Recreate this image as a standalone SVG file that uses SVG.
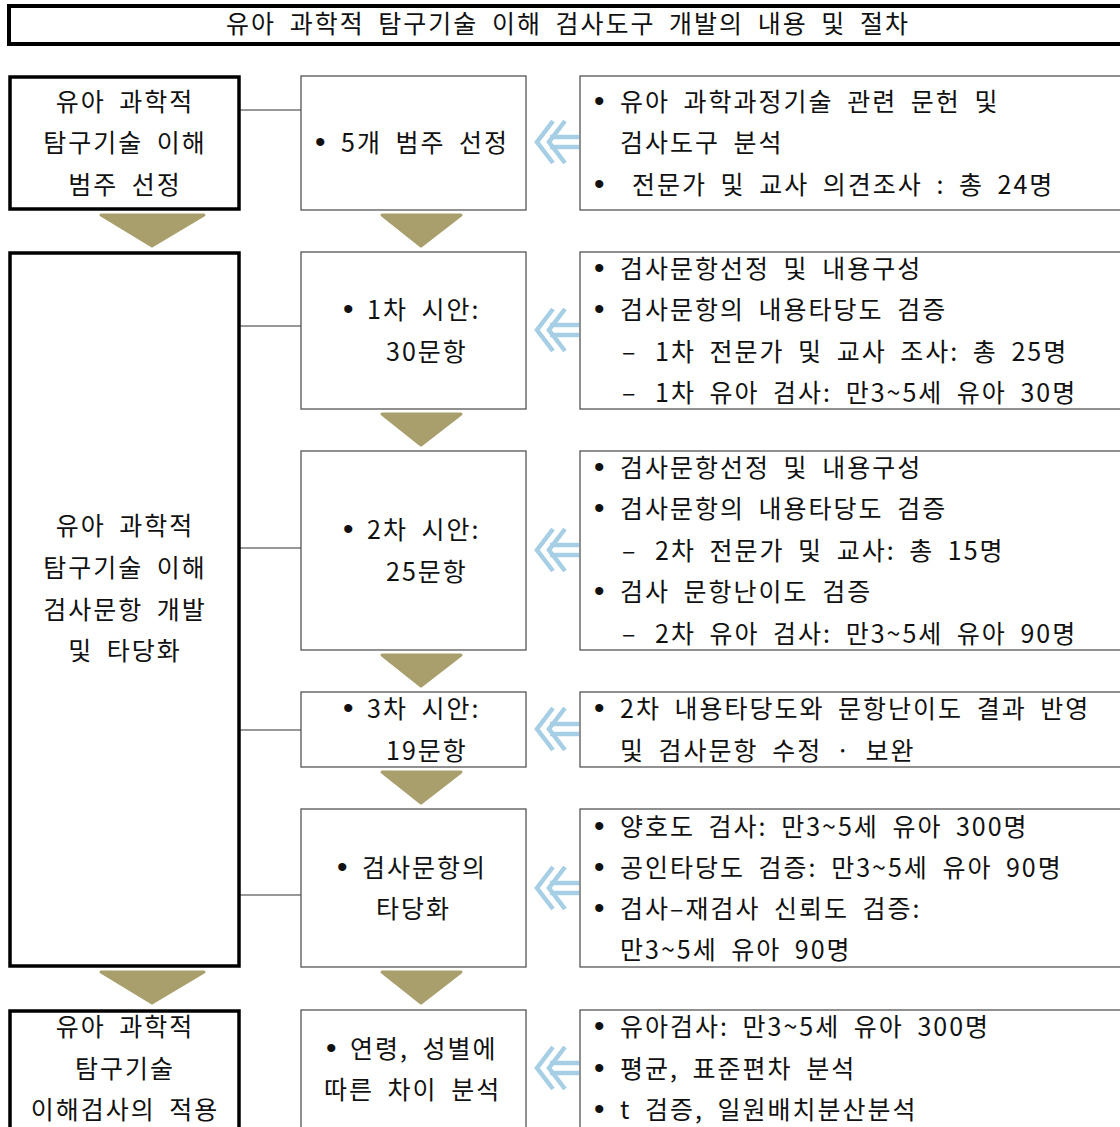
<svg xmlns="http://www.w3.org/2000/svg" width="1120" height="1127" viewBox="0 0 1120 1127">
<style>
text{font-family:"Noto Sans CJK KR","Liberation Sans",sans-serif;font-size:25px;fill:#111;word-spacing:6px;letter-spacing:2px}
.c{text-anchor:middle}
.b{font-family:"Liberation Sans",sans-serif;font-size:30px;letter-spacing:0}
.lb{fill:#fff;stroke:#000;stroke-width:3.5}
.mb{fill:#fff;stroke:#555;stroke-width:1.3}
.ln{stroke:#333;stroke-width:1.2;fill:none}
.tri{fill:#a89f6c;stroke:#a89f6c;stroke-width:3;stroke-linejoin:round}
</style>
<defs>
<g id="arr" fill="none" stroke="#a6cfe5" stroke-width="4.5">
<path d="M17,-21 L1,0 L17,21"/>
<path d="M29,-21 L13,0 L29,21"/>
<path d="M14,-5 H43 M14,5 H43"/>
</g>
<polygon id="triL" class="tri" points="101,215 204,215 152,246"/>
<polygon id="triM" class="tri" points="382,215 461,215 421,246"/>
</defs>
<rect x="0" y="0" width="1120" height="1127" fill="#fff"/>
<g id="title">
<rect x="9" y="6" width="1120" height="38" fill="#fff" stroke="#000" stroke-width="4"/>
<text class="c" x="568" y="33">유아 과학적 탐구기술 이해 검사도구 개발의 내용 및 절차</text>
</g>
<g id="connectors">
<path class="ln" d="M240,110 H301 M240,326 H301 M240,548 H301 M240,730 H301 M240,895 H301"/>
<use href="#triL"/>
<use href="#triL" y="757"/>
<use href="#triM"/>
<use href="#triM" y="199"/>
<use href="#triM" y="440"/>
<use href="#triM" y="557"/>
<use href="#triM" y="757"/>
<use href="#arr" transform="translate(536,142)"/>
<use href="#arr" transform="translate(536,330)"/>
<use href="#arr" transform="translate(536,550)"/>
<use href="#arr" transform="translate(536,729)"/>
<use href="#arr" transform="translate(536,888)"/>
<use href="#arr" transform="translate(536,1068)"/>
</g>
<g id="left1">
<rect class="lb" x="10" y="77" width="229" height="132"/>
<text class="c" x="125" y="111">유아 과학적</text>
<text class="c" x="125" y="152">탐구기술 이해</text>
<text class="c" x="125" y="194">범주 선정</text>
</g>
<g id="left2">
<rect class="lb" x="10" y="253" width="229" height="713"/>
<text class="c" x="125" y="535">유아 과학적</text>
<text class="c" x="125" y="577">탐구기술 이해</text>
<text class="c" x="125" y="619">검사문항 개발</text>
<text class="c" x="125" y="660">및 타당화</text>
</g>
<g id="left3">
<rect class="lb" x="10" y="1011" width="229" height="130"/>
<text class="c" x="125" y="1036">유아 과학적</text>
<text class="c" x="125" y="1078">탐구기술</text>
<text class="c" x="125" y="1119">이해검사의 적용</text>
</g>
<g id="midA">
<rect class="mb" x="301" y="76" width="225" height="134"/>
<text y="152"><tspan class="b" x="315">•</tspan><tspan x="341">5개 범주 선정</tspan></text>
</g>
<g id="midB">
<rect class="mb" x="301" y="252" width="225" height="157"/>
<text y="319"><tspan class="b" x="343">•</tspan><tspan x="367">1차 시안:</tspan></text>
<text x="386" y="361">30문항</text>
</g>
<g id="midC">
<rect class="mb" x="301" y="451" width="225" height="199"/>
<text y="539"><tspan class="b" x="343">•</tspan><tspan x="367">2차 시안:</tspan></text>
<text x="386" y="581">25문항</text>
</g>
<g id="midD">
<rect class="mb" x="301" y="692" width="225" height="75"/>
<text y="718"><tspan class="b" x="343">•</tspan><tspan x="367">3차 시안:</tspan></text>
<text x="386" y="760">19문항</text>
</g>
<g id="midE">
<rect class="mb" x="301" y="809" width="225" height="158"/>
<text y="877"><tspan class="b" x="337">•</tspan><tspan x="362">검사문항의</tspan></text>
<text x="376" y="918">타당화</text>
</g>
<g id="midF">
<rect class="mb" x="301" y="1010" width="225" height="130"/>
<text y="1058"><tspan class="b" x="326">•</tspan><tspan x="350">연령, 성별에</tspan></text>
<text x="324" y="1099">따른 차이 분석</text>
</g>
<g id="rightA">
<rect class="mb" x="580" y="76" width="560" height="134"/>
<text y="111"><tspan class="b" x="594">•</tspan><tspan x="620">유아 과학과정기술 관련 문헌 및</tspan></text>
<text x="620" y="152">검사도구 분석</text>
<text y="194"><tspan class="b" x="594">•</tspan><tspan x="632">전문가 및 교사 의견조사 : 총 24명</tspan></text>
</g>
<g id="rightB">
<rect class="mb" x="580" y="252" width="560" height="157"/>
<text y="278"><tspan class="b" x="594">•</tspan><tspan x="620">검사문항선정 및 내용구성</tspan></text>
<text y="319"><tspan class="b" x="594">•</tspan><tspan x="620">검사문항의 내용타당도 검증</tspan></text>
<text y="361"><tspan x="622">–</tspan><tspan x="655">1차 전문가 및 교사 조사: 총 25명</tspan></text>
<text y="402"><tspan x="622">–</tspan><tspan x="655">1차 유아 검사: 만3~5세 유아 30명</tspan></text>
</g>
<g id="rightC">
<rect class="mb" x="580" y="451" width="560" height="199"/>
<text y="477"><tspan class="b" x="594">•</tspan><tspan x="620">검사문항선정 및 내용구성</tspan></text>
<text y="518"><tspan class="b" x="594">•</tspan><tspan x="620">검사문항의 내용타당도 검증</tspan></text>
<text y="560"><tspan x="622">–</tspan><tspan x="655">2차 전문가 및 교사: 총 15명</tspan></text>
<text y="601"><tspan class="b" x="594">•</tspan><tspan x="620">검사 문항난이도 검증</tspan></text>
<text y="643"><tspan x="622">–</tspan><tspan x="655">2차 유아 검사: 만3~5세 유아 90명</tspan></text>
</g>
<g id="rightD">
<rect class="mb" x="580" y="692" width="560" height="75"/>
<text y="718"><tspan class="b" x="594">•</tspan><tspan x="620">2차 내용타당도와 문항난이도 결과 반영</tspan></text>
<text x="620" y="760">및 검사문항 수정 · 보완</text>
</g>
<g id="rightE">
<rect class="mb" x="580" y="809" width="560" height="158"/>
<text y="836"><tspan class="b" x="594">•</tspan><tspan x="620">양호도 검사: 만3~5세 유아 300명</tspan></text>
<text y="877"><tspan class="b" x="594">•</tspan><tspan x="620">공인타당도 검증: 만3~5세 유아 90명</tspan></text>
<text y="918"><tspan class="b" x="594">•</tspan><tspan x="620">검사–재검사 신뢰도 검증:</tspan></text>
<text x="620" y="959">만3~5세 유아 90명</text>
</g>
<g id="rightF">
<rect class="mb" x="580" y="1010" width="560" height="130"/>
<text y="1036"><tspan class="b" x="594">•</tspan><tspan x="620">유아검사: 만3~5세 유아 300명</tspan></text>
<text y="1078"><tspan class="b" x="594">•</tspan><tspan x="620">평균, 표준편차 분석</tspan></text>
<text y="1119"><tspan class="b" x="594">•</tspan><tspan x="620">t 검증, 일원배치분산분석</tspan></text>
</g>
</svg>
